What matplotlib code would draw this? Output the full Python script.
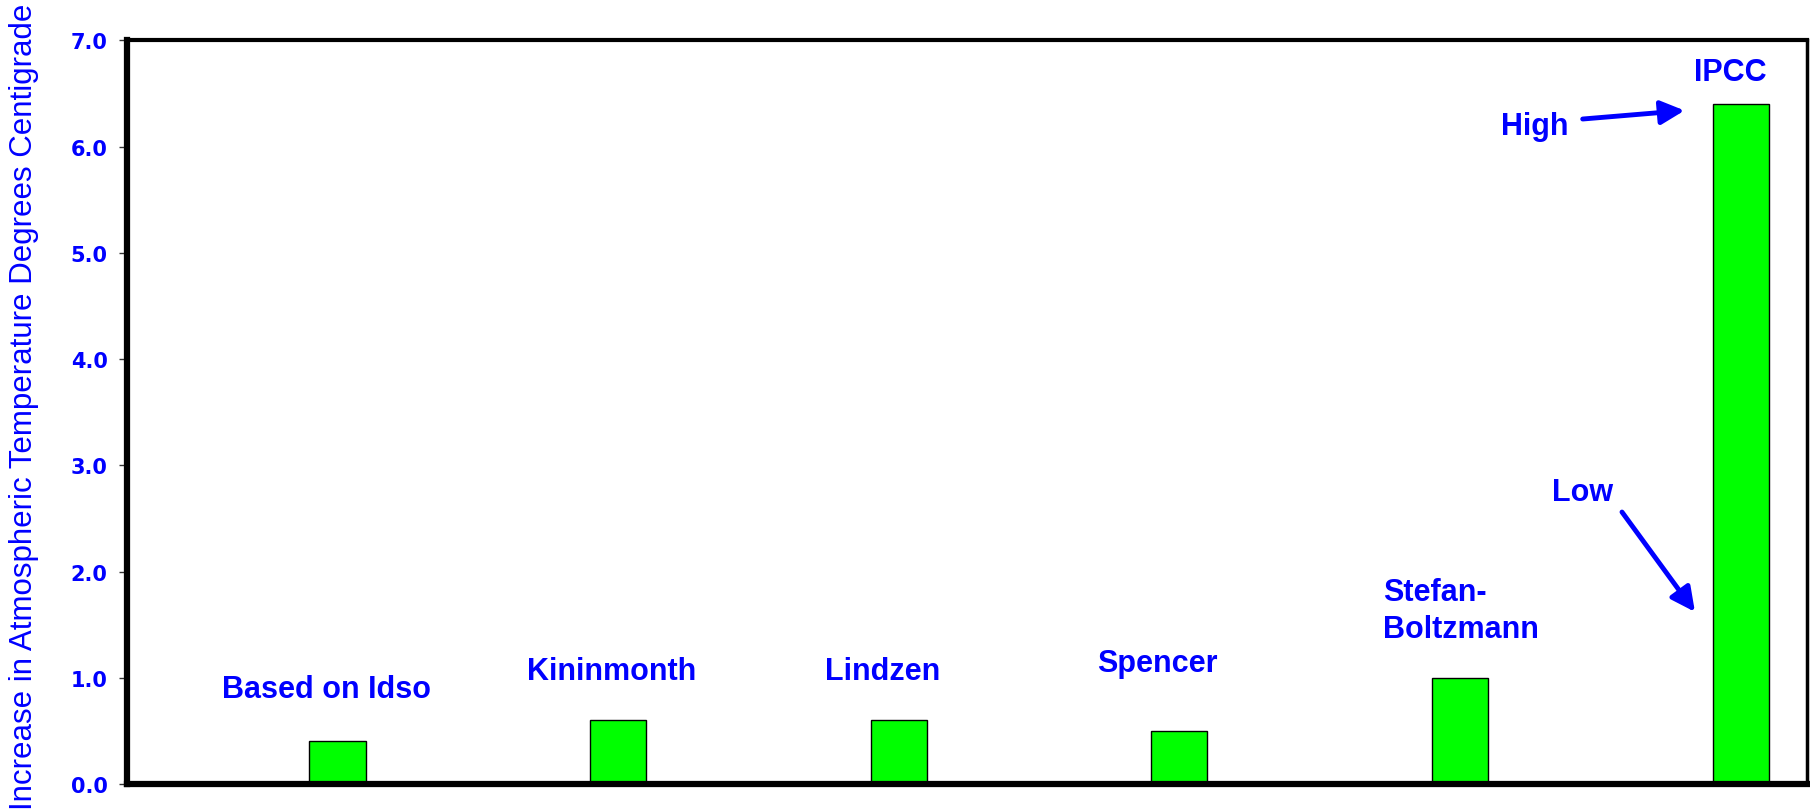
import matplotlib
matplotlib.use('Agg')
import matplotlib.pyplot as plt
import numpy as np

# Warming estimates (degrees C) by source
fuentes = ['Based on Idso', 'Kininmonth', 'Lindzen', 'Spencer',
           'Stefan-\nBoltzmann', 'IPCC']
aumento = [0.4, 0.6, 0.6, 0.5, 1.0, 6.4]

y_ticks = [0.0, 1.0, 2.0, 3.0, 4.0, 5.0, 6.0, 7.0]
y_label = 'Increase in Atmospheric Temperature Degrees Centigrade'

AZUL = '#0000ff'
VERDE = '#00ff00'

fig = plt.figure(figsize=(18.10, 8.12), dpi=100)
ax = fig.add_axes([0.0702, 0.0333, 0.9281, 0.9157])

xs = np.arange(len(fuentes))
ax.bar(xs, aumento, width=0.2, color=VERDE, edgecolor='black', linewidth=1.0, zorder=2)

ax.set_xlim(-0.75, 5.236)
ax.set_ylim(0, 7)
ax.set_xticks([])
ax.set_yticks(y_ticks)
ax.set_yticklabels([f'{v:.1f}' for v in y_ticks], fontsize=15, fontweight='heavy',
                   color=AZUL, family='DejaVu Sans')
ax.tick_params(axis='y', direction='out', length=6, width=1.0, color='#333333', pad=8)

# marco: izquierda y abajo mas gruesos
for lado, grosor in [('left', 4.5), ('bottom', 4.5), ('top', 3.0), ('right', 2.5)]:
    ax.spines[lado].set_linewidth(grosor)
    ax.spines[lado].set_color('black')

# etiquetas de cada fuente (posicion x, y en datos)
pos_etiquetas = [(-0.04, 0.895), (0.978, 1.064), (1.944, 1.064),
                 (2.92, 1.14), (3.726, 1.63), (4.962, 6.70)]
for nombre, (px, py) in zip(fuentes, pos_etiquetas):
    ha = 'left' if '\n' in nombre else 'center'
    ax.text(px, py, nombre, ha=ha, va='center', fontsize=22, fontweight='bold',
            color=AZUL, family='Liberation Sans', linespacing=1.3)

# flechas High / Low del IPCC
flecha = dict(arrowstyle='-|>', lw=3.5, color=AZUL, mutation_scale=36,
              shrinkA=0, shrinkB=0)
ax.text(4.267, 6.19, 'High', ha='center', va='center', fontsize=22,
        fontweight='bold', color=AZUL, family='Liberation Sans')
ax.annotate('', xy=(4.80, 6.34), xytext=(4.437, 6.26), arrowprops=flecha)
ax.text(4.438, 2.75, 'Low', ha='center', va='center', fontsize=22,
        fontweight='bold', color=AZUL, family='Liberation Sans')
ax.annotate('', xy=(4.837, 1.62), xytext=(4.577, 2.56), arrowprops=flecha)

fig.text(0.013, 0.499, y_label, rotation=90, ha='center', va='center',
         fontsize=22.5, color=AZUL, family='Liberation Sans')

fig.savefig('out.png', dpi=100, facecolor='white')
